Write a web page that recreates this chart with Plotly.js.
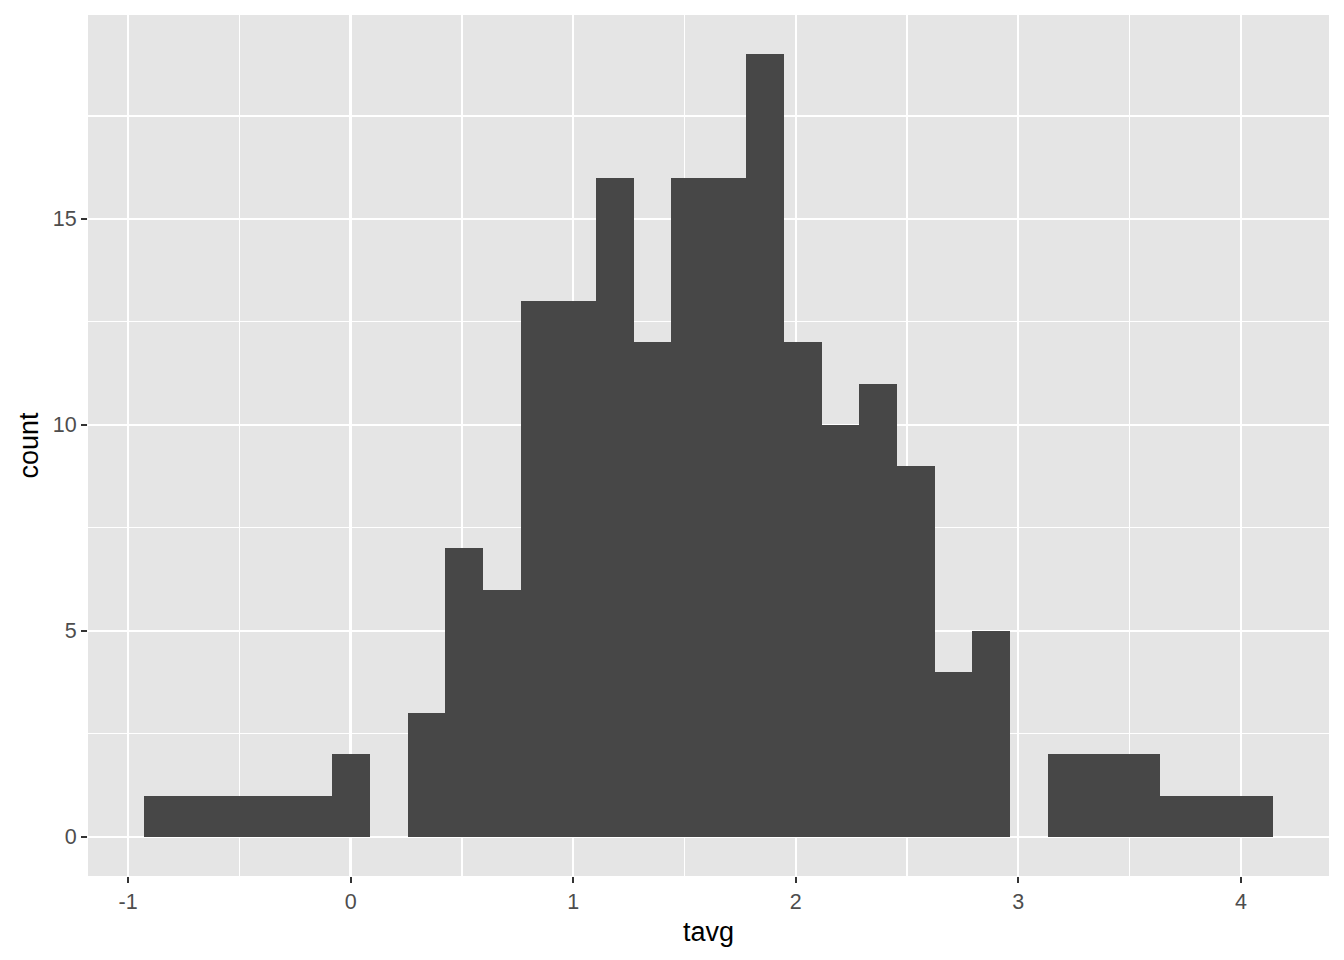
<!DOCTYPE html>
<html>
<head>
<meta charset="utf-8">
<script src="https://cdn.plot.ly/plotly-3.0.1.min.js"></script>
<style>html,body{margin:0;padding:0;background:#fff;}#chart{width:1344px;height:960px;}</style>
</head>
<body>
<div id="chart"></div>
<script>
// Histogram of tavg, 30 bins
const binStart = -0.927;
const binWidth = 0.1691;
const counts = [1,1,1,1,1,2,0,3,7,6,13,13,16,12,16,16,19,12,10,11,9,4,5,0,2,2,2,1,1,1];
const xTicks = [-1,0,1,2,3,4];
const yTicks = [0,5,10,15];

const centers = counts.map((c,i)=>binStart + (i+0.5)*binWidth);

const trace = {
  type:'bar',
  x:centers,
  y:counts,
  width:counts.map(()=>binWidth),
  marker:{color:'#474747', line:{width:0}},
  hoverinfo:'x+y'
};

const fam = 'Liberation Sans, Arial, Helvetica, sans-serif';
const layout = {
  width:1344, height:960,
  margin:{l:88, r:15, t:15, b:84},
  paper_bgcolor:'#ffffff',
  plot_bgcolor:'#e5e5e5',
  bargap:0,
  showlegend:false,
  font:{family:fam},
  xaxis:{
    range:[-1.180, 4.396],
    tickvals:xTicks, ticktext:xTicks.map(String),
    ticks:'outside', ticklen:6, tickwidth:2.2, tickcolor:'#333333',
    tickfont:{size:21.5, color:'#4d4d4d', family:fam},
    showgrid:true, gridcolor:'#ffffff', gridwidth:2.4,
    minor:{tickvals:[-0.5,0.5,1.5,2.5,3.5], showgrid:true, gridcolor:'#ffffff', gridwidth:1.2, ticks:''},
    zeroline:false, showline:false,
    title:{text:'tavg', font:{size:27, color:'#000000', family:fam}, standoff:9}
  },
  yaxis:{
    range:[-0.954, 19.95],
    tickvals:yTicks, ticktext:yTicks.map(String),
    ticks:'outside', ticklen:6, tickwidth:2.2, tickcolor:'#333333',
    tickfont:{size:21.5, color:'#4d4d4d', family:fam},
    showgrid:true, gridcolor:'#ffffff', gridwidth:2.4,
    minor:{tickvals:[2.5,7.5,12.5,17.5], showgrid:true, gridcolor:'#ffffff', gridwidth:1.2, ticks:''},
    zeroline:false, showline:false,
    title:{text:'count', font:{size:27, color:'#000000', family:fam}, standoff:6}
  }
};

Plotly.newPlot('chart',[trace],layout,{displayModeBar:false, staticPlot:true});
</script>
</body>
</html>
